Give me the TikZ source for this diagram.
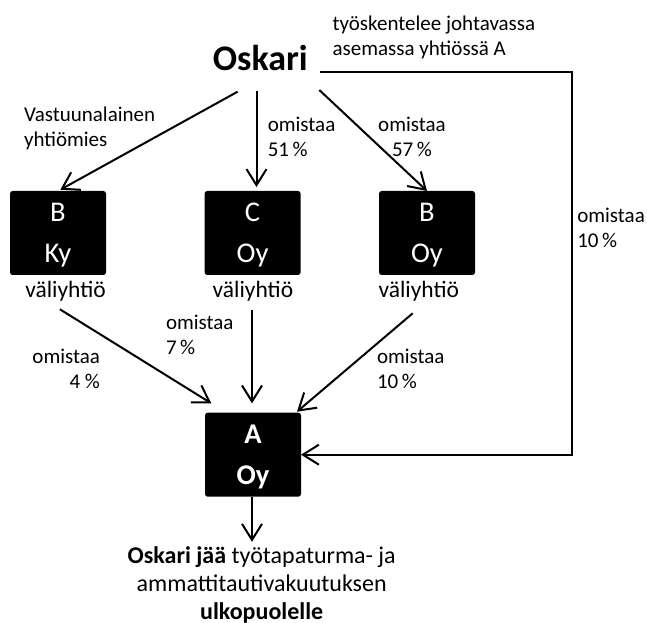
\documentclass[tikz,border=0pt]{standalone}
\usepackage{fontspec}
\setmainfont{Carlito}
\usetikzlibrary{arrows.meta,calc}

\begin{document}
\begin{tikzpicture}[x=0.75pt, y=-0.75pt, line width=1.5pt,
	every node/.style={inner sep=0pt, outer sep=0pt},
	txt/.style={font=\fontsize{15.75pt}{18.75pt}\selectfont},
	yhtio/.style={fill=black, rounded corners=2pt, minimum width=72pt, minimum height=63pt, text=white, align=center, text depth=0pt, font=\fontsize{21.4pt}{30.4pt}\selectfont},
	vali/.style={anchor=base, font=\fontsize{17.6pt}{21pt}\selectfont},
	arr/.style={-{Straight Barb[length=12pt,width=15pt]}}]
	
	\useasboundingbox (0,0) rectangle (647,623);
	
	% Oskari
	\node[anchor=base, font=\fontsize{27pt}{32pt}\selectfont\bfseries] (oskari) at (260.3,70.7) {Oskari};
	\node[txt, anchor=base west, align=left] (johtaa) at (332.6,55.5) {työskentelee johtavassa\\asemassa yhtiössä A};
	
	% Yhtiöt
	\node[yhtio] (bky) at (58,233) {B\\Ky};
	\node[yhtio] (coy) at (252.6,233) {C\\Oy};
	\node[yhtio] (boy) at (427,233) {B\\Oy};
	\node[yhtio, font=\fontsize{21.4pt}{30.4pt}\selectfont\bfseries] (aoy) at (253,454.7) {A\\Oy};
	\node[vali] (vbky) at (65.5,297.3) {väliyhtiö};
	\node[vali] (vcoy) at (252.9,297.3) {väliyhtiö};
	\node[vali] (vboy) at (418.8,297.3) {väliyhtiö};
	
	% Tulos
	\node[anchor=base, align=center, font=\fontsize{18pt}{20.8pt}\selectfont] (tulos) at (261.7,619.4) {\textbf{Oskari jää} työtapaturma- ja\\ammattitautivakuutuksen\\\textbf{ulkopuolelle}};
	
	% Omistukset
	\node[txt, anchor=base west, align=left] (lvastuu) at (24,146.7) {Vastuunalainen\\yhtiömies};
	\node[txt, anchor=base west, align=left] (lcoy) at (267.8,156.7) {omistaa\\51\,\%};
	\node[txt, anchor=base, align=center] (lboy) at (412,156.7) {omistaa\\57\,\%};
	\node[txt, anchor=base west, align=left] (laoy) at (577.3,247.3) {omistaa\\10\,\%};
	\node[txt, anchor=base east, align=right] (lbkya) at (100,388.3) {omistaa\\4 \%};
	\node[txt, anchor=base west, align=left] (lcoya) at (166,354.3) {omistaa\\7\,\%};
	\node[txt, anchor=base west, align=left] (lboya) at (377,388.3) {omistaa\\10\,\%};
	
	% Nuolet
	\coordinate (o1) at ($(oskari.base)+(-22.7,21)$);
	\coordinate (o2) at ($(oskari.base)+(-3.8,20.3)$);
	\coordinate (o3) at ($(oskari.base)+(59,19.3)$);
	\coordinate (v1) at ($(vbky.base)+(-5.6,12)$);
	\coordinate (v2) at ($(vcoy.base)+(-0.9,12.7)$);
	\coordinate (v3) at ($(vboy.base)+(-6.1,16)$);
	\coordinate (kulma) at (571.7,71.7);
	
	\draw[arr, shorten >=2pt] (o1) -- (bky.north);
	\draw[arr, shorten >=3pt] (o2) -- (o2 |- coy.north);
	\draw[arr] (o3) -- (boy.north);
	\draw[arr] (v1) -- ($(aoy.north west)+(6.3,-9.4)$);
	\draw[arr, shorten >=7pt] (v2) -- (v2 |- aoy.north);
	\draw[arr] (v3) -- ($(aoy.north east)+(-4,-1)$);
	\draw[arr] ($(oskari.base east)+(12,1)$) -- (kulma) |- (aoy.east);
	\draw[arr, shorten >=4pt] (v2 |- aoy.south) -- (v2 |- tulos.north);
	
\end{tikzpicture}
\end{document}
